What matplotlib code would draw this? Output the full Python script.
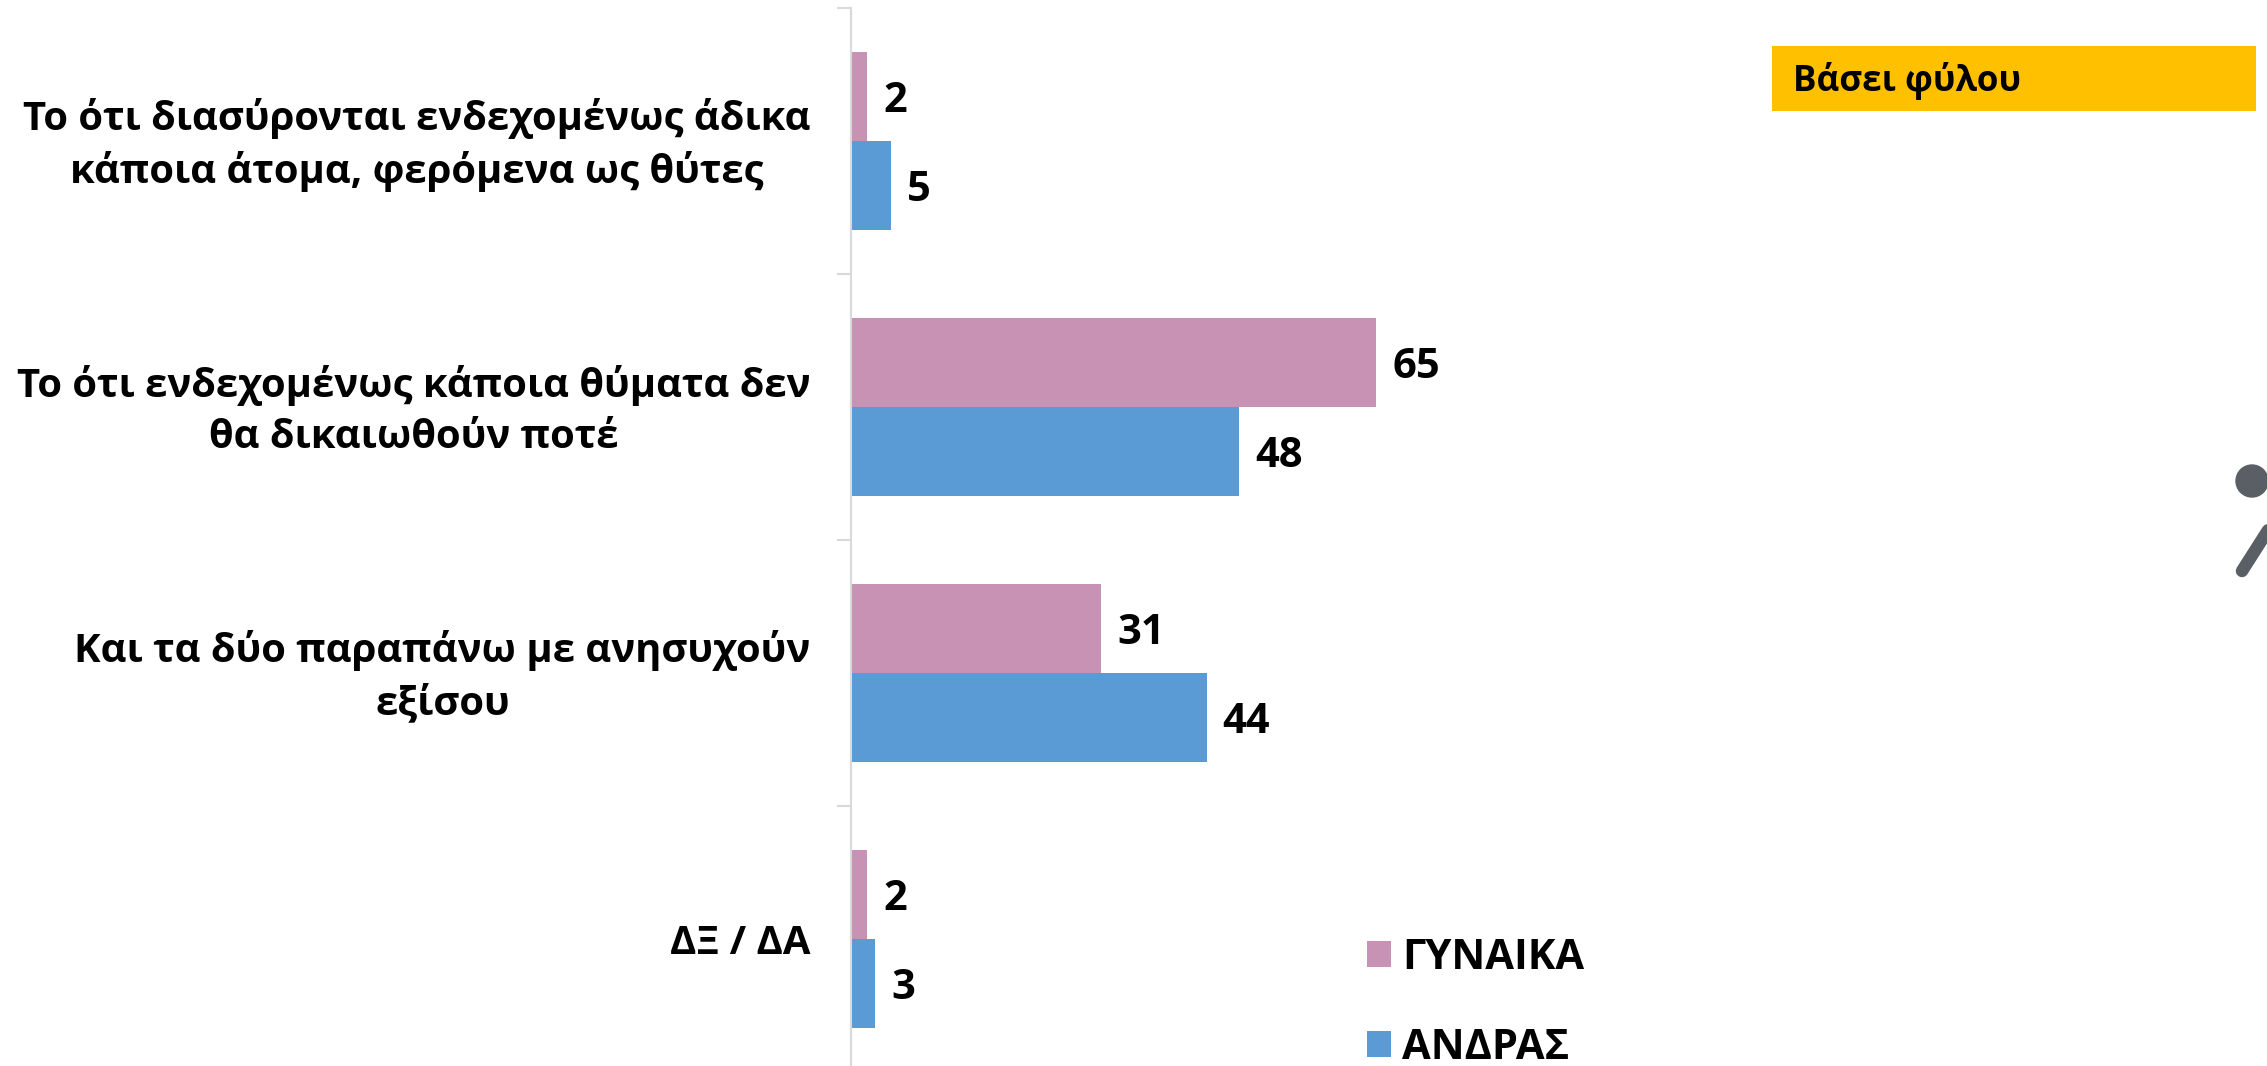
import numpy as np
import matplotlib
matplotlib.use('Agg')
import matplotlib.pyplot as plt
from matplotlib.patches import Circle, Rectangle
from matplotlib.lines import Line2D
from matplotlib.transforms import ScaledTranslation

plt.rcParams['font.family'] = ['Open Sans', 'DejaVu Sans']
plt.rcParams['font.weight'] = 'bold'

categories = ['Το ότι διασύρονται ενδεχομένως άδικα\nκάποια άτομα, φερόμενα ως θύτες',
              'Το ότι ενδεχομένως κάποια θύματα δεν\nθα δικαιωθούν ποτέ',
              'Και τα δύο παραπάνω με ανησυχούν\nεξίσου',
              'ΔΞ / ΔΑ']
women = [2, 65, 31, 2]
men = [5, 48, 44, 3]
series_names = ['ΓΥΝΑΙΚΑ', 'ΑΝΔΡΑΣ']
badge_text = 'Βάσει φύλου'

W, H = 2267, 1066
pink = '#C892B4'
blue = '#5B9BD5'
grey = '#D9D9D9'

fig = plt.figure(figsize=(W / 100, H / 100), dpi=100)
# axes runs a bit past the bottom edge, like in the slide
ax = fig.add_axes([851 / W, -6 / H, (W - 851) / W, 1064 / H])
ax.patch.set_alpha(0)

y = np.arange(len(categories))
h = 1 / 3
b1 = ax.barh(y - h / 2, women, h, color=pink, label=series_names[0])
b2 = ax.barh(y + h / 2, men, h, color=blue, label=series_names[1])
for bars in [b1, b2]:
    for t in ax.bar_label(bars, padding=11.5, fontsize=30, color='black', fontweight='bold'):
        t.set_verticalalignment('center_baseline')

ax.set_ylim(3.5, -0.5)
ax.set_xlim(0, (W - 851) / 8.08)
ax.set_xticks([])
ax.set_yticks(np.arange(-0.5, 4, 1))
ax.set_yticklabels([])
ax.tick_params(axis='y', which='major', length=10, width=1.5, color=grey)
ax.set_yticks(y, minor=True)
labels = ax.set_yticklabels(categories, minor=True, fontsize=28.8, fontweight='bold',
                            multialignment='center', linespacing=1.4)
ax.tick_params(axis='y', which='minor', length=0, pad=29)
# two-line labels sit a little under the tick centre
for t in labels[:3]:
    t.set_verticalalignment('center')
    t.set_transform(t.get_transform() + ScaledTranslation(0, -0.04, fig.dpi_scale_trans))
for s in ['top', 'right', 'bottom']:
    ax.spines[s].set_visible(False)
ax.spines['left'].set_color(grey)
ax.spines['left'].set_linewidth(1.5)

leg = fig.legend(handles=[b1, b2], loc='upper left', bbox_to_anchor=(1367 / W, 1 - 938 / H),
                 frameon=False, fontsize=30, handlelength=0.58, handleheight=0.58,
                 labelspacing=1.18, handletextpad=0.27, borderpad=0, borderaxespad=0)

# yellow box
fig.add_artist(Rectangle((1772 / W, 1 - 111 / H), 484 / W, 65 / H, color='#FFC000', lw=0,
                         transform=fig.transFigure))
fig.text(1793 / W, 1 - 91 / H, badge_text, fontsize=25.2, fontweight='bold', va='baseline')

# icon cut at the right edge
icon = '#5A5F66'
fig.add_artist(Circle((2252, H - 481), 16, color=icon, transform=None))
fig.add_artist(Line2D([2242 / W, 2272 / W], [1 - 571 / H, 1 - 524 / H], color=icon, lw=9,
                      solid_capstyle='round', transform=fig.transFigure))

fig.savefig('out.png', dpi=100, facecolor='white')
